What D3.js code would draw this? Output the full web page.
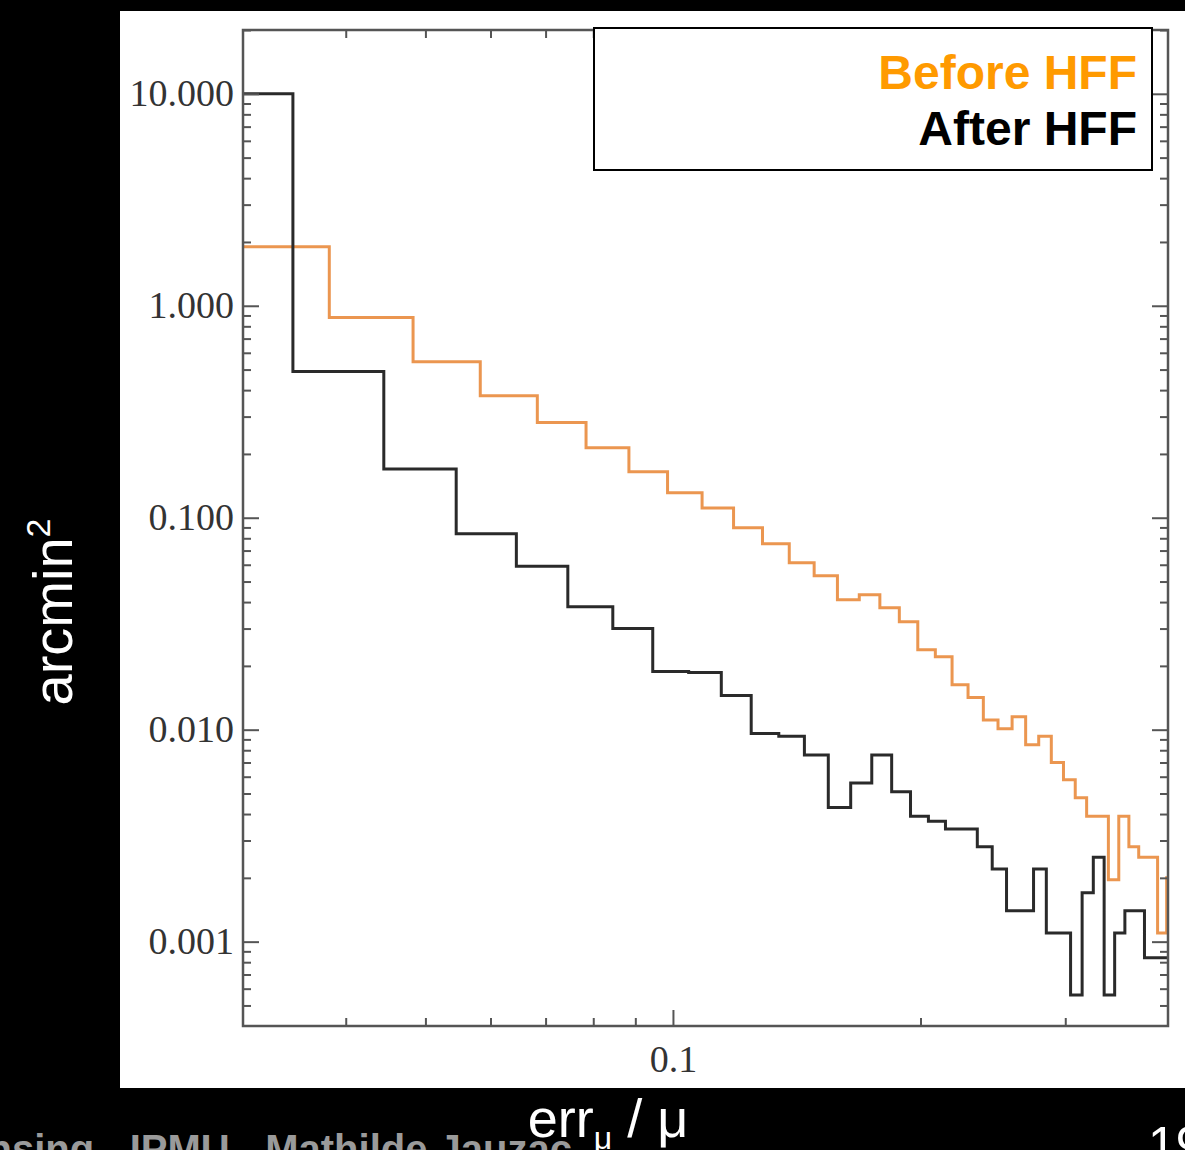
<!DOCTYPE html>
<html>
<head>
<meta charset="utf-8">
<script src="https://cdn.jsdelivr.net/npm/d3@7"></script>
<style>
  html, body { margin: 0; padding: 0; background: #000; }
  svg { display: block; }
</style>
</head>
<body>
<div id="chart"></div>
<script>
// bin edges (err_mu / mu) and histogram values (arcmin^2)
const afterEdges = [0.03, 0.0345, 0.0445, 0.0545, 0.0645, 0.0745, 0.0845, 0.0945, 0.1045, 0.1145,
  0.1245, 0.1345, 0.1445, 0.1545, 0.1645, 0.1745, 0.1845, 0.1945, 0.2045, 0.2145,
  0.2245, 0.2345, 0.2445, 0.2545, 0.2645, 0.2745, 0.2845, 0.2945, 0.3045, 0.3145,
  0.3245, 0.3345, 0.3445, 0.3545, 0.3645, 0.3745, 0.3845, 0.3945, 0.4];
const afterValues = [10, 0.49, 0.17, 0.084, 0.059, 0.038, 0.030, 0.0188, 0.0186, 0.0145,
  0.0096, 0.0093, 0.0076, 0.0043, 0.0056, 0.0076, 0.0051, 0.0039, 0.0037, 0.0034,
  0.0034, 0.0028, 0.0022, 0.0014, 0.0014, 0.0022, 0.0011, 0.0011, 0.00056, 0.0017,
  0.0025, 0.00056, 0.0011, 0.0014, 0.0014, 0.00084, 0.00084, 0.00084];

const beforeEdges = [0.03, 0.0382, 0.0483, 0.0583, 0.0684, 0.0784, 0.0884, 0.0985, 0.1085, 0.1185,
  0.1285, 0.1385, 0.1485, 0.1585, 0.1685, 0.1785, 0.1885, 0.1985, 0.2085, 0.2185,
  0.2285, 0.2385, 0.2485, 0.2585, 0.2685, 0.2785, 0.2885, 0.2985, 0.3085, 0.3185,
  0.3285, 0.3385, 0.3485, 0.3585, 0.3685, 0.3785, 0.3885, 0.3985, 0.4];
const beforeValues = [1.90, 0.88, 0.545, 0.376, 0.281, 0.214, 0.165, 0.131, 0.111, 0.0897,
  0.0754, 0.0614, 0.0532, 0.0410, 0.0433, 0.0376, 0.0323, 0.0238, 0.0221, 0.0163,
  0.0142, 0.0111, 0.0101, 0.0115, 0.0085, 0.0093, 0.0070, 0.0058, 0.00478, 0.0039,
  0.0039, 0.00196, 0.0039, 0.0028, 0.0025, 0.0025, 0.0011, 0.0020];

const yMajorTicks = [10, 1, 0.1, 0.01, 0.001];
const yMinorTicks = [20, 9, 8, 7, 6, 5, 4, 3, 2, 0.9, 0.8, 0.7, 0.6, 0.5, 0.4, 0.3, 0.2,
  0.09, 0.08, 0.07, 0.06, 0.05, 0.04, 0.03, 0.02, 0.009, 0.008, 0.007, 0.006, 0.005,
  0.004, 0.003, 0.002, 0.0009, 0.0008, 0.0007, 0.0006, 0.0005];
const xMajorTicks = [0.1];
const xMinorTicks = [0.04, 0.05, 0.06, 0.07, 0.08, 0.09, 0.2, 0.3];

const legendItems = ["Before HFF", "After HFF"];
const legendColors = ["#ff9a00", "#000000"];

const W = 1185, H = 1150;
const plot = {left: 243, right: 1168, top: 30, bottom: 1026};

const svg = d3.select("#chart").append("svg")
  .attr("width", W).attr("height", H);

svg.append("rect").attr("width", W).attr("height", H).attr("fill", "#000");
// white slide panel
svg.append("rect")
  .attr("x", 120).attr("y", 11).attr("width", W - 120).attr("height", 1077)
  .attr("fill", "#fff");

const x = d3.scaleLog().domain([0.03, 0.4]).range([plot.left, plot.right]);
const y = d3.scaleLog().domain([0.0004, 20]).range([plot.bottom, plot.top]);

svg.append("clipPath").attr("id", "clip")
  .append("rect")
  .attr("x", plot.left).attr("y", plot.top)
  .attr("width", plot.right - plot.left).attr("height", plot.bottom - plot.top);

function stepPoints(edges, vals) {
  const pts = vals.map((v, i) => ({x: edges[i], y: v}));
  pts.push({x: edges[edges.length - 1], y: vals[vals.length - 1]});
  return pts;
}

const line = d3.line()
  .x(d => x(d.x))
  .y(d => y(d.y))
  .curve(d3.curveStepAfter);

const g = svg.append("g").attr("clip-path", "url(#clip)");
g.append("path")
  .datum(stepPoints(beforeEdges, beforeValues))
  .attr("fill", "none").attr("stroke", "#eb9650").attr("stroke-width", 3)
  .attr("d", line);
g.append("path")
  .datum(stepPoints(afterEdges, afterValues))
  .attr("fill", "none").attr("stroke", "#2a2a2a").attr("stroke-width", 3)
  .attr("d", line);

// axes, ticks pointing inward on all four sides
const axisColor = "#555";
function styleAxis(sel) {
  sel.select(".domain").remove();
  sel.selectAll(".tick line").attr("stroke", axisColor).attr("stroke-width", 2);
  sel.selectAll(".tick text")
    .attr("fill", "#333")
    .style("font-family", "'Liberation Serif', 'Times New Roman', serif")
    .style("font-size", "38px");
}

svg.append("g").attr("transform", `translate(${plot.left},0)`)
  .call(d3.axisLeft(y).tickValues(yMajorTicks).tickSize(-16).tickPadding(9)
    .tickFormat(d3.format(".3f")))
  .call(styleAxis);
svg.append("g").attr("transform", `translate(${plot.left},0)`)
  .call(d3.axisLeft(y).tickValues(yMinorTicks).tickSize(-8).tickFormat(""))
  .call(styleAxis);
svg.append("g").attr("transform", `translate(${plot.right},0)`)
  .call(d3.axisRight(y).tickValues(yMajorTicks).tickSize(-16).tickFormat(""))
  .call(styleAxis);
svg.append("g").attr("transform", `translate(${plot.right},0)`)
  .call(d3.axisRight(y).tickValues(yMinorTicks).tickSize(-8).tickFormat(""))
  .call(styleAxis);

svg.append("g").attr("transform", `translate(0,${plot.bottom})`)
  .call(d3.axisBottom(x).tickValues(xMajorTicks).tickSize(-16).tickPadding(19)
    .tickFormat(d3.format(".1f")))
  .call(styleAxis);
svg.append("g").attr("transform", `translate(0,${plot.bottom})`)
  .call(d3.axisBottom(x).tickValues(xMinorTicks).tickSize(-8).tickFormat(""))
  .call(styleAxis);
svg.append("g").attr("transform", `translate(0,${plot.top})`)
  .call(d3.axisTop(x).tickValues(xMajorTicks).tickSize(-16).tickFormat(""))
  .call(styleAxis);
svg.append("g").attr("transform", `translate(0,${plot.top})`)
  .call(d3.axisTop(x).tickValues(xMinorTicks).tickSize(-8).tickFormat(""))
  .call(styleAxis);

svg.append("rect")
  .attr("x", plot.left).attr("y", plot.top)
  .attr("width", plot.right - plot.left).attr("height", plot.bottom - plot.top)
  .attr("fill", "none").attr("stroke", axisColor).attr("stroke-width", 2.5);

// legend box
svg.append("rect")
  .attr("x", 594).attr("y", 28).attr("width", 558).attr("height", 142)
  .attr("fill", "#fff").attr("stroke", "#000").attr("stroke-width", 2);

svg.selectAll(".legend")
  .data(legendItems)
  .enter().append("text")
  .attr("class", "legend")
  .attr("x", 1137)
  .attr("y", (d, i) => 89 + i * 56)
  .attr("text-anchor", "end")
  .attr("fill", (d, i) => legendColors[i])
  .style("font-family", "'Liberation Sans', Arial, sans-serif")
  .style("font-weight", "bold")
  .style("font-size", "48px")
  .text(d => d);

// footer of the slide, cut by the page edge
svg.append("text")
  .attr("x", 572).attr("y", 1163)
  .attr("text-anchor", "end")
  .attr("fill", "#9a9a9a")
  .style("font-family", "'Liberation Sans', Arial, sans-serif")
  .style("font-weight", "bold")
  .style("font-size", "40px")
  .text("Lensing - IPMU - Mathilde Jauzac");

svg.append("text")
  .attr("x", 1148).attr("y", 1162)
  .attr("fill", "#fff")
  .style("font-family", "'Liberation Sans', Arial, sans-serif")
  .style("font-size", "50px")
  .text("19");

// axis titles (white on black)
const yTitle = svg.append("text")
  .attr("transform", "translate(72,612) rotate(-90)")
  .attr("text-anchor", "middle")
  .attr("fill", "#fff")
  .style("font-family", "'Liberation Sans', Arial, sans-serif")
  .style("font-size", "56px");
yTitle.append("tspan").text("arcmin");
yTitle.append("tspan").attr("dy", -22).style("font-size", "34px").text("2");

const xTitle = svg.append("text")
  .attr("x", 608).attr("y", 1137)
  .attr("text-anchor", "middle")
  .attr("fill", "#fff")
  .style("font-family", "'Liberation Sans', Arial, sans-serif")
  .style("font-size", "54px");
xTitle.append("tspan").text("err");
xTitle.append("tspan").attr("dy", 12).style("font-size", "32px").text("\u03bc");
xTitle.append("tspan").attr("dy", -12).text(" / \u03bc");
</script>
</body>
</html>
